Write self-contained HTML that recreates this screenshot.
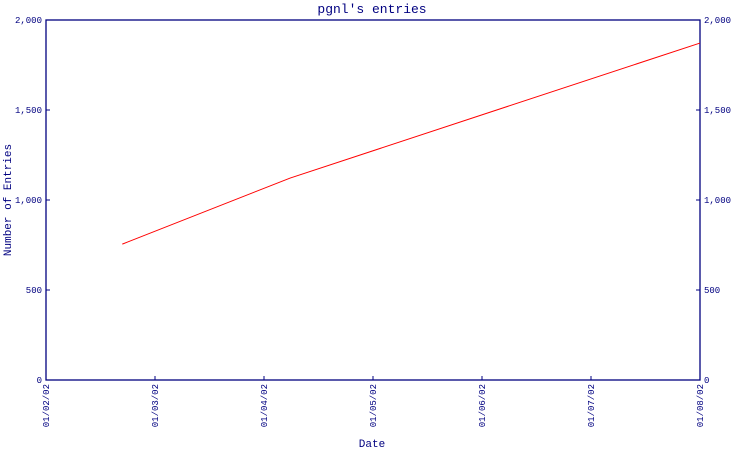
<!DOCTYPE html>
<html><head><meta charset="utf-8"><style>
body{margin:0;background:#fff}
svg text{font-family:"Liberation Mono",monospace;fill:#000080}
</style></head><body>
<svg id="chart" width="750" height="450" viewBox="0 0 750 450" xmlns="http://www.w3.org/2000/svg">
<text x="372" y="13" font-size="13" text-anchor="middle">pgnl's entries</text>
<text x="0" y="0" font-size="11" text-anchor="middle" transform="translate(11,200) rotate(-90)">Number of Entries</text>
<text x="372" y="447" font-size="11" text-anchor="middle">Date</text>
<g id="axes"></g>
<g id="marks"></g>
</svg>
<script>
const xLabels=["01/02/02","01/03/02","01/04/02","01/05/02","01/06/02","01/07/02","01/08/02"];
const yTicks=[0,500,1000,1500,2000];
const yTickLabels=["0","500","1,000","1,500","2,000"];
const pointMonths=[0.70,2.24,6.0];
const pointValues=[755,1122,1872];
const L=46,R=700,T=20,B=380;
const NS="http://www.w3.org/2000/svg";
function xs(m){return L+m*(R-L)/(xLabels.length-1);}
function ys(v){return B-v*(B-T)/2000;}
const axes=document.getElementById('axes'),marks=document.getElementById('marks');
function mk(tag,attrs,parent){const e=document.createElementNS(NS,tag);for(const k in attrs)e.setAttribute(k,attrs[k]);parent.appendChild(e);return e;}
const frame=mk('rect',{x:L,y:T,width:R-L,height:B-T,fill:'none',stroke:'#000080','stroke-width':1.3},axes);


yTicks.forEach((v,i)=>{
 const y=ys(v);
 const t1=mk('line',{x1:L,x2:L+4,y1:y,y2:y,stroke:'#000080'},axes);
 
 
 const t2=mk('line',{x1:R-4,x2:R,y1:y,y2:y,stroke:'#000080'},axes);
 
 
 const a=mk('text',{x:L-4,y:y+3,'font-size':9,'text-anchor':'end'},axes);a.textContent=yTickLabels[i];
 
 
 const b=mk('text',{x:R+4,y:y+3,'font-size':9},axes);b.textContent=yTickLabels[i];
 
 
});
xLabels.forEach((s,i)=>{
 const x=xs(i);
 const t=mk('line',{x1:x,x2:x,y1:B-4,y2:B,stroke:'#000080'},axes);
 
 
 const tx=mk('text',{x:0,y:0,'font-size':9,'text-anchor':'end',transform:`translate(${x+3},${B+4}) rotate(-90)`},axes);tx.textContent=s;
 
 
});
const pts=pointMonths.map((m,i)=>xs(m)+','+ys(pointValues[i])).join(' ');
const line=mk('polyline',{points:pts,fill:'none',stroke:'#ff0000','stroke-width':1},marks);


</script>
</body></html>
